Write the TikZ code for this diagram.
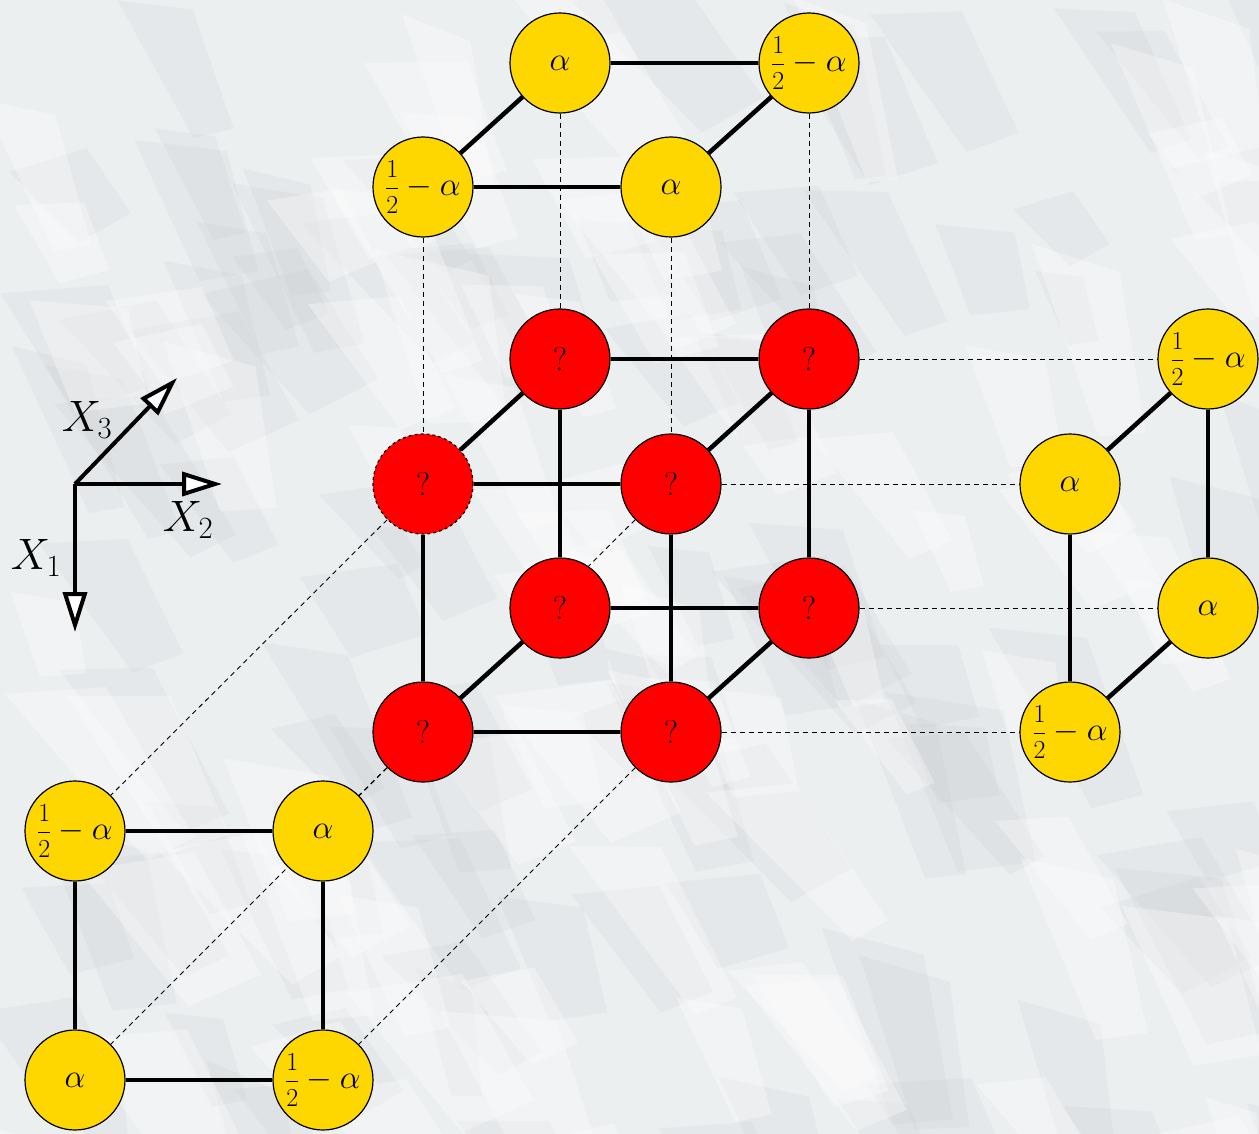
\documentclass[tikz,border=0pt]{standalone}
\usepackage{fix-cm}
\usepackage{amsmath}
\usetikzlibrary{arrows.meta,calc}
\pgfdeclarelayer{bg}
\pgfdeclarelayer{edges}
\pgfsetlayers{bg,edges,main}
\definecolor{paper}{RGB}{236,239,240}
\definecolor{crease}{RGB}{185,191,196}
\definecolor{gold}{RGB}{255,215,0}
\definecolor{redball}{RGB}{255,0,0}
\newcommand{\halfmin}{\mbox{\fontsize{26}{30}\selectfont$\dfrac{1}{2}$}-\alpha}
\begin{document}
\begin{tikzpicture}[x=1pt,y=-1pt,
  ball/.style={circle,draw=black,line width=1.2pt,minimum size=100pt,inner sep=0pt,font=\fontsize{33}{40}\selectfont},
  yball/.style={ball,fill=gold},
  rball/.style={ball,fill=redball},
  edge/.style={line width=4.5pt},
  proj/.style={line width=0.9pt,dash pattern=on 5pt off 4pt},
  axis/.style={line width=4pt,-{Triangle[open,length=40pt,width=24pt,fill=white]}},
  axlabel/.style={font=\fontsize{44}{50}\selectfont}]
\begin{pgfonlayer}{bg}
\fill[paper] (0,0) rectangle (1259,1134);
\begin{scope}
\clip (0,0) rectangle (1259,1134);
\pgfmathsetseed{11}
\foreach \i in {1,...,110}{
  \pgfmathsetmacro\cx{rnd*1300-20}
  \pgfmathsetmacro\cy{rnd*1180-20}
  \pgfmathsetmacro\an{45+rnd*30}
  \pgfmathsetmacro\la{80+rnd*140}
  \pgfmathsetmacro\wb{30+rnd*50}
  \fill[crease,opacity=0.13] (\cx,\cy) -- ++(\an:\la) -- ++(\an-75:\wb) -- ++(\an+190:0.8*\la) -- cycle;
}
\foreach \i in {1,...,90}{
  \pgfmathsetmacro\cx{rnd*1300-20}
  \pgfmathsetmacro\cy{rnd*1180-20}
  \pgfmathsetmacro\an{45+rnd*30}
  \pgfmathsetmacro\la{80+rnd*140}
  \pgfmathsetmacro\wb{30+rnd*50}
  \fill[white,opacity=0.3] (\cx,\cy) -- ++(\an:\la) -- ++(\an-75:\wb) -- ++(\an+190:0.8*\la) -- cycle;
}
\end{scope}
\end{pgfonlayer}
\useasboundingbox (0,0) rectangle (1259,1134);

% axes
\coordinate (o) at (75,484);
\coordinate (e1) at (75,632);
\coordinate (e2) at (222,484);
\coordinate (e3) at (177,378);
\draw[axis] (o) -- (e1);
\draw[axis] (o) -- (e2);
\draw[axis] (o) -- (e3);
\node[axlabel] (lx1) at (36,558) {$X_1$};
\node[axlabel] (lx2) at (188,520) {$X_2$};
\node[axlabel] (lx3) at (87,420) {$X_3$};

% red cube
\node[rball,dashed] (f1) at (423,484) {?};
\node[rball] (f2) at (671,484) {?};
\node[rball] (f3) at (423,732) {?};
\node[rball] (f4) at (671,732) {?};
\node[rball] (b1) at (560,359) {?};
\node[rball] (b2) at (809,359) {?};
\node[rball] (b3) at (560,608) {?};
\node[rball] (b4) at (809,608) {?};

% top
\node[yball] (t1) at (560,63) {$\alpha$};
\node[yball] (t2) at (809,63) {$\halfmin$};
\node[yball] (t3) at (423,187) {$\halfmin$};
\node[yball] (t4) at (671,187) {$\alpha$};

% right
\node[yball] (s1) at (1208,359) {$\halfmin$};
\node[yball] (s2) at (1070,484) {$\alpha$};
\node[yball] (s3) at (1208,608) {$\alpha$};
\node[yball] (s4) at (1070,732) {$\halfmin$};

% bottom left
\node[yball] (l1) at (75,831) {$\halfmin$};
\node[yball] (l2) at (323,831) {$\alpha$};
\node[yball] (l3) at (75,1080) {$\alpha$};
\node[yball] (l4) at (323,1080) {$\halfmin$};

\begin{pgfonlayer}{edges}
% projections
\draw[proj] (t3) -- (f1);
\draw[proj] (t1) -- (b1);
\draw[proj] (t4) -- (f2);
\draw[proj] (t2) -- (b2);
\draw[proj] (b2) -- (s1);
\draw[proj] (f2) -- (s2);
\draw[proj] (b4) -- (s3);
\draw[proj] (f4) -- (s4);
\draw[proj] (f1) -- (l1);
\draw[proj] (f2) -- ($(f2)!0.34!(l2)$);
\draw[proj] (f3) -- (l2);
\draw[proj] (f3) -- (l3);
\draw[proj] (f4) -- (l4);
% cube edges
\draw[edge] (f1) -- (f2);
\draw[edge] (f1) -- (f3);
\draw[edge] (f2) -- (f4);
\draw[edge] (f3) -- (f4);
\draw[edge] (b1) -- (b2);
\draw[edge] (b1) -- (b3);
\draw[edge] (b2) -- (b4);
\draw[edge] (b3) -- (b4);
\draw[edge] (f1) -- (b1);
\draw[edge] (f2) -- (b2);
\draw[edge] (f3) -- (b3);
\draw[edge] (f4) -- (b4);
% top face
\draw[edge] (t1) -- (t2);
\draw[edge] (t3) -- (t4);
\draw[edge] (t3) -- (t1);
\draw[edge] (t4) -- (t2);
% right face
\draw[edge] (s1) -- (s2);
\draw[edge] (s1) -- (s3);
\draw[edge] (s2) -- (s4);
\draw[edge] (s3) -- (s4);
% left face
\draw[edge] (l1) -- (l2);
\draw[edge] (l1) -- (l3);
\draw[edge] (l2) -- (l4);
\draw[edge] (l3) -- (l4);
\end{pgfonlayer}
\end{tikzpicture}
\end{document}
